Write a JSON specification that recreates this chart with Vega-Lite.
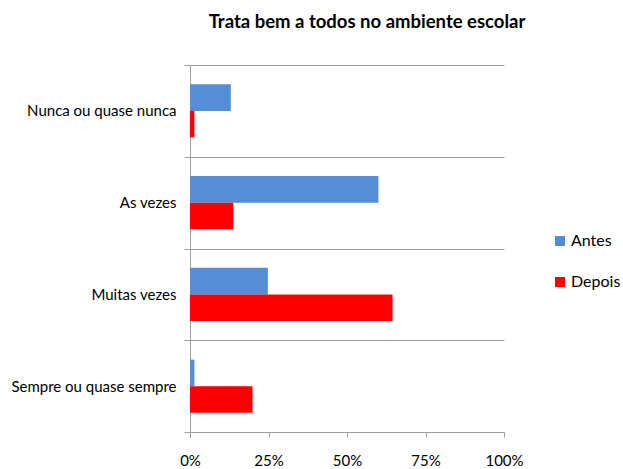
{
  "$schema": "https://vega.github.io/schema/vega-lite/v6.json",
  "width": 314,
  "height": 367,
  "autosize": {"type": "none"},
  "padding": {"left": 190, "top": 65, "right": 119, "bottom": 37},
  "background": "white",
  "config": {"view": {"stroke": null}},
  "title": {
    "text": "Trata bem a todos no ambiente escolar",
    "font": "Lato",
    "fontSize": 18.5,
    "fontWeight": "bold",
    "color": "black",
    "anchor": "middle",
    "dx": 20,
    "offset": 27
  },
  "data": {
    "values": [
      {"categoria": "Nunca ou quase nunca", "periodo": "Antes", "valor": 0.13},
      {"categoria": "Nunca ou quase nunca", "periodo": "Depois", "valor": 0.014},
      {"categoria": "As vezes", "periodo": "Antes", "valor": 0.60},
      {"categoria": "As vezes", "periodo": "Depois", "valor": 0.138},
      {"categoria": "Muitas vezes", "periodo": "Antes", "valor": 0.248},
      {"categoria": "Muitas vezes", "periodo": "Depois", "valor": 0.645},
      {"categoria": "Sempre ou quase sempre", "periodo": "Antes", "valor": 0.014},
      {"categoria": "Sempre ou quase sempre", "periodo": "Depois", "valor": 0.199}
    ]
  },
  "mark": {"type": "bar"},
  "encoding": {
    "y": {
      "field": "categoria",
      "type": "nominal",
      "sort": ["Nunca ou quase nunca", "As vezes", "Muitas vezes", "Sempre ou quase sempre"],
      "title": null,
      "scale": {"paddingInner": 0, "paddingOuter": 0},
      "axis": {
        "grid": true,
        "tickBand": "extent",
        "gridColor": "#A0A0A0",
        "gridWidth": 1,
        "gridOpacity": 1,
        "domainColor": "#A0A0A0",
        "tickColor": "#A0A0A0",
        "tickSize": 6,
        "labelFont": "Lato",
        "labelFontSize": 15,
        "labelColor": "black",
        "labelPadding": 8
      }
    },
    "yOffset": {
      "field": "periodo",
      "sort": ["Antes", "Depois"],
      "scale": {"paddingInner": 0, "paddingOuter": 0.73}
    },
    "x": {
      "field": "valor",
      "type": "quantitative",
      "scale": {"domain": [0, 1]},
      "title": null,
      "axis": {
        "format": ".0%",
        "values": [0, 0.25, 0.5, 0.75, 1],
        "grid": false,
        "labelFlush": false,
        "domainColor": "#A0A0A0",
        "tickColor": "#A0A0A0",
        "tickSize": 5,
        "labelFont": "Lato",
        "labelFontSize": 15,
        "labelColor": "black",
        "labelPadding": 16
      }
    },
    "color": {
      "field": "periodo",
      "type": "nominal",
      "scale": {"domain": ["Antes", "Depois"], "range": ["#558ED5", "#FF0000"]},
      "legend": {
        "title": null,
        "orient": "none",
        "legendX": 362,
        "legendY": 168,
        "symbolType": "square",
        "symbolSize": 100,
        "symbolStrokeWidth": 0,
        "labelFont": "Lato",
        "labelFontSize": 16,
        "labelOffset": 3,
        "labelColor": "black",
        "rowPadding": 25
      }
    }
  }
}
